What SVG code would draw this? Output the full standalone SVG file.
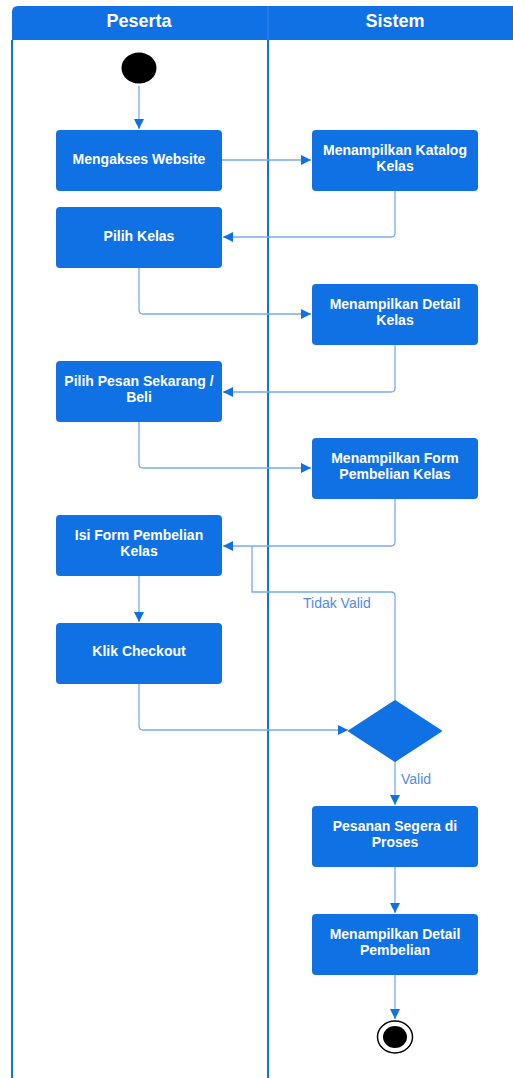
<svg xmlns="http://www.w3.org/2000/svg" width="513" height="1078" viewBox="0 0 513 1078">
  <style>
    .lane { fill: none; stroke: #1071E5; stroke-width: 2; }
    .head { font-family: "Liberation Sans", Arial, sans-serif; font-size: 18px; font-weight: bold; fill: #ffffff; text-anchor: middle; }
    .act rect { fill: #1071E5; }
    .act text { font-family: "Liberation Sans", Arial, sans-serif; font-size: 14px; font-weight: bold; fill: #ffffff; text-anchor: middle; }
    .flow { fill: none; stroke: #79AAF0; stroke-width: 1.3; }
    .guard { font-family: "Liberation Sans", Arial, sans-serif; font-size: 14px; fill: #4F8BE4; }
  </style>
  <defs>
    <marker id="arrow" viewBox="0 0 10 10" refX="10" refY="5" markerWidth="10" markerHeight="10" markerUnits="userSpaceOnUse" orient="auto">
      <path d="M0,0 L10,5 L0,10 Z" fill="#1071E5"/>
    </marker>
  </defs>

  <rect width="513" height="1078" fill="#ffffff"/>

  <!-- swimlanes -->
  <g id="lanes">
    <path d="M12,1078 V12 Q12,6 18,6 H513 V40 H12" fill="#1071E5"/>
    <line x1="12" y1="40" x2="12" y2="1078" class="lane"/>
    <line x1="268" y1="6" x2="268" y2="1078" class="lane"/>
    <line x1="268" y1="6" x2="268" y2="40" stroke="#3A86EA" stroke-width="1"/>
    <text x="139" y="27" class="head">Peserta</text>
    <text x="395" y="27" class="head">Sistem</text>
  </g>

  <!-- connectors -->
  <g id="connectors">
    <path d="M139,86 V129" class="flow" marker-end="url(#arrow)"/>
    <path d="M222,160 H311" class="flow" marker-end="url(#arrow)"/>
    <path d="M395,191 V233 Q395,237 391,237 H223" class="flow" marker-end="url(#arrow)"/>
    <path d="M139,268 V310 Q139,314 143,314 H311" class="flow" marker-end="url(#arrow)"/>
    <path d="M395,345 V388 Q395,392 391,392 H223" class="flow" marker-end="url(#arrow)"/>
    <path d="M139,422 V464 Q139,468 143,468 H311" class="flow" marker-end="url(#arrow)"/>
    <path d="M395,499 V542 Q395,546 391,546 H223" class="flow" marker-end="url(#arrow)"/>
    <path d="M139,576 V622" class="flow" marker-end="url(#arrow)"/>
    <path d="M139,684 V726 Q139,730 143,730 H348" class="flow" marker-end="url(#arrow)"/>
    <path d="M395,701 V596 Q395,592 391,592 H252 V546" class="flow"/>
    <path d="M395,761 V805" class="flow" marker-end="url(#arrow)"/>
    <path d="M395,867 V913" class="flow" marker-end="url(#arrow)"/>
    <path d="M395,975 V1019" class="flow" marker-end="url(#arrow)"/>
    <text x="303" y="608" class="guard">Tidak Valid</text>
    <text x="401" y="784" class="guard">Valid</text>
  </g>

  <!-- start -->
  <g id="start">
    <ellipse cx="139" cy="68" rx="17.5" ry="15.5" fill="#000000"/>
  </g>

  <!-- Peserta actions -->
  <g id="mengakses-website" class="act">
    <rect x="56" y="130" width="166" height="61" rx="4"/>
    <text x="139" y="164">Mengakses Website</text>
  </g>
  <g id="pilih-kelas" class="act">
    <rect x="56" y="207" width="166" height="61" rx="4"/>
    <text x="139" y="241">Pilih Kelas</text>
  </g>
  <g id="pilih-pesan" class="act">
    <rect x="56" y="361" width="166" height="61" rx="4"/>
    <text x="139" y="386">Pilih Pesan Sekarang /</text>
    <text x="139" y="402">Beli</text>
  </g>
  <g id="isi-form" class="act">
    <rect x="56" y="515" width="166" height="61" rx="4"/>
    <text x="139" y="540">Isi Form Pembelian</text>
    <text x="139" y="556">Kelas</text>
  </g>
  <g id="klik-checkout" class="act">
    <rect x="56" y="623" width="166" height="61" rx="4"/>
    <text x="139" y="656">Klik Checkout</text>
  </g>

  <!-- Sistem actions -->
  <g id="katalog-kelas" class="act">
    <rect x="312" y="130" width="166" height="61" rx="4"/>
    <text x="395" y="155">Menampilkan Katalog</text>
    <text x="395" y="171">Kelas</text>
  </g>
  <g id="detail-kelas" class="act">
    <rect x="312" y="284" width="166" height="61" rx="4"/>
    <text x="395" y="309">Menampilkan Detail</text>
    <text x="395" y="325">Kelas</text>
  </g>
  <g id="form-pembelian" class="act">
    <rect x="312" y="438" width="166" height="61" rx="4"/>
    <text x="395" y="463">Menampilkan Form</text>
    <text x="395" y="479">Pembelian Kelas</text>
  </g>
  <g id="decision">
    <path d="M395,701 L441,731 L395,761 L349,731 Z" fill="#1071E5" stroke="#1071E5" stroke-width="2" stroke-linejoin="round"/>
  </g>
  <g id="pesanan-diproses" class="act">
    <rect x="312" y="806" width="166" height="61" rx="4"/>
    <text x="395" y="831">Pesanan Segera di</text>
    <text x="395" y="847">Proses</text>
  </g>
  <g id="detail-pembelian" class="act">
    <rect x="312" y="914" width="166" height="61" rx="4"/>
    <text x="395" y="939">Menampilkan Detail</text>
    <text x="395" y="955">Pembelian</text>
  </g>

  <!-- end -->
  <g id="end">
    <ellipse cx="395" cy="1037" rx="17.5" ry="16" fill="#ffffff" stroke="#000000" stroke-width="1.5"/>
    <ellipse cx="395" cy="1037" rx="12" ry="11" fill="#000000"/>
  </g>
</svg>
